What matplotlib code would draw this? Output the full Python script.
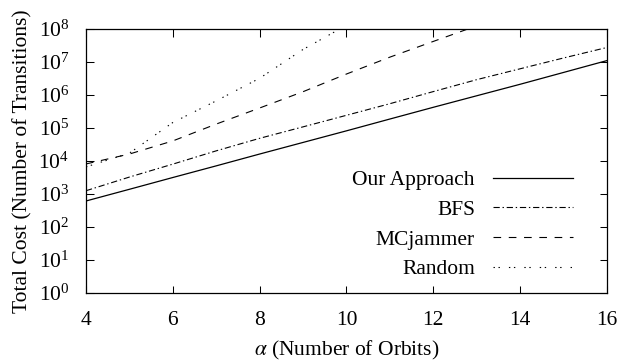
import numpy as np
import matplotlib.pyplot as plt
from matplotlib.ticker import LogLocator, NullLocator

plt.rcParams["font.family"] = ["Liberation Serif", "DejaVu Serif"]
plt.rcParams["mathtext.fontset"] = "stix"
plt.rcParams["lines.scale_dashes"] = False

# values
orbits = [4, 5, 6, 7, 8, 9, 10, 11, 12, 13, 14, 15, 16]
our_approach = [6.0e2, 1.36e3, 3.1e3, 7.0e3, 1.6e4, 3.6e4, 8.1e4, 1.85e5,
                4.2e5, 9.4e5, 2.1e6, 4.8e6, 1.1e7]
bfs = [1.23e3, 3.2e3, 7.9e3, 2.0e4, 4.8e4, 1.07e5, 2.4e5, 5.4e5,
       1.26e6, 2.9e6, 6.2e6, 1.32e7, 2.75e7]
mc_orbits = [4, 5, 6, 7, 8, 9, 10, 11, 12, 13]
mcjammer = [8.0e3, 1.6e4, 4.0e4, 1.3e5, 4.0e5, 1.25e6, 4.3e6, 1.4e7, 4.2e7, 1.25e8]
rnd_orbits = [4, 5, 6, 7, 8, 9, 10]
random_cost = [6.5e3, 1.7e4, 1.45e5, 6.6e5, 3.2e6, 2.4e7, 1.3e8]

fs = 15.5

fig = plt.figure(figsize=(6.19, 3.62), dpi=100)
ax = fig.add_axes([86 / 619, (362 - 292.5) / 362, 521 / 619, 263.5 / 362])

ax.plot(orbits, our_approach, color="black", lw=0.9, label="Our Approach")
ax.plot(orbits, bfs, color="black", lw=0.8, dashes=(4.5, 2, 1, 2), label="BFS")
ax.plot(mc_orbits, mcjammer, color="black", lw=0.8, dashes=(5.5, 5.5), label="MCjammer")
ax.plot(rnd_orbits, random_cost, color="black", lw=0.8, dashes=(1, 2.6, 1, 6.5), label="Random")

ax.set_yscale("log")
ax.set_xlim(4, 16)
ax.set_ylim(1, 1e8)
ax.set_xticks([4, 6, 8, 10, 12, 14, 16])
ax.yaxis.set_major_locator(LogLocator(base=10, numticks=20))
ax.yaxis.set_minor_locator(NullLocator())

ax.tick_params(direction="in", top=True, right=True, length=5.4, width=0.75,
               labelsize=fs)
ax.tick_params(axis="x", pad=13)
ax.tick_params(axis="y", pad=12)
for s in ax.spines.values():
    s.set_linewidth(0.9)

ax.set_xlabel(r"$\alpha$ (Number of Orbits)", fontsize=fs, labelpad=7)
ax.set_ylabel("Total Cost (Number of Transitions)", fontsize=fs, labelpad=4.5)

ax.legend(loc="lower right", bbox_to_anchor=(0.935, 0.05), frameon=False,
          markerfirst=False, fontsize=fs, handlelength=3.72, handletextpad=0.84,
          labelspacing=0.45, borderpad=0, borderaxespad=0)

fig.savefig("out.png", dpi=100)
